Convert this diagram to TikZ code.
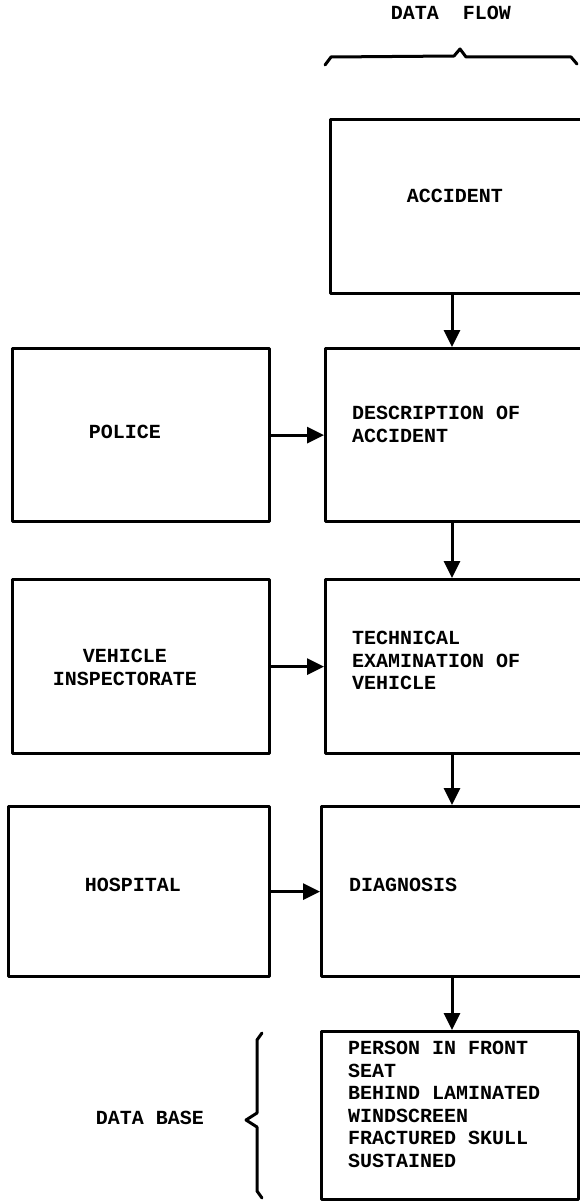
\documentclass[tikz,border=0pt]{standalone}
\usepackage{fontspec}
\setmonofont{Liberation Mono}
\usetikzlibrary{arrows.meta}
\begin{document}
\begin{tikzpicture}[x=1pt,y=-1pt,
  box/.style={draw, line width=3.2pt, line join=round, inner sep=0pt, anchor=north west},
  lbl/.style={font=\ttfamily\bfseries\fontsize{20}{22.5}\selectfont, inner sep=0pt},
  flow/.style={line width=3pt, -{Triangle[length=17pt,width=16pt]}},
  brace/.style={line width=3pt, line join=round, line cap=round}]
\useasboundingbox (0,0) rectangle (579,1201);
% boxes
\node[box, minimum width=256pt, minimum height=174pt] (acc) at (329,118) {};
\node[box, minimum width=261pt, minimum height=173pt] (desc) at (324,347) {};
\node[box, minimum width=257pt, minimum height=173pt] (police) at (11,347) {};
\node[box, minimum width=261pt, minimum height=174pt] (tech) at (324,578) {};
\node[box, minimum width=257pt, minimum height=174pt] (veh) at (11,578) {};
\node[box, minimum width=265pt, minimum height=170pt] (diag) at (320,805) {};
\node[box, minimum width=261pt, minimum height=170pt] (hosp) at (7,805) {};
\node[box, minimum width=257pt, minimum height=168pt] (db) at (320,1030) {};
% texts
\node[lbl, anchor=base] (tflow) at (451,20) {DATA\ \ FLOW};
\node[lbl, anchor=base] (tacc) at (455,203) {ACCIDENT};
\node[lbl, anchor=base] (tpol) at (125,438) {POLICE};
\node[lbl, anchor=north west, align=left] (tdesc) at (352,406) {DESCRIPTION OF\\ACCIDENT};
\node[lbl, anchor=north, align=center] (tveh) at (125,649) {VEHICLE\\INSPECTORATE};
\node[lbl, anchor=north west, align=left] (ttech) at (352,631) {TECHNICAL\\EXAMINATION OF\\VEHICLE};
\node[lbl, anchor=base] (thosp) at (133,891) {HOSPITAL};
\node[lbl, anchor=base west] (tdiag) at (349,891) {DIAGNOSIS};
\node[lbl, anchor=north west, align=left] (tdb) at (348,1041) {PERSON IN FRONT\\SEAT\\BEHIND LAMINATED\\WINDSCREEN\\FRACTURED SKULL\\SUSTAINED};
\node[lbl, anchor=base] (tbase) at (150,1124) {DATA BASE};
% connectors
\coordinate (cx) at (452,0);
\draw[flow] (acc.south -| cx) -- (desc.north -| cx);
\draw[flow] (desc.south -| cx) -- (tech.north -| cx);
\draw[flow] (tech.south -| cx) -- (diag.north -| cx);
\draw[flow] (diag.south -| cx) -- (db.north -| cx);
\draw[flow] (police.east) -- (police.east -| desc.west);
\draw[flow] (veh.east) -- (veh.east -| tech.west);
\draw[flow] (hosp.east) -- (hosp.east -| diag.west);
% braces
\draw[brace] (325,65) -- (331,57) -- (454,56) -- (460,49) -- (466,57) -- (571,57) -- (577,64);
\draw[brace] (262,1033) -- (257,1040) -- (257,1113) -- (246,1120) -- (257,1127) -- (257,1191) -- (262,1198);
\end{tikzpicture}
\end{document}
